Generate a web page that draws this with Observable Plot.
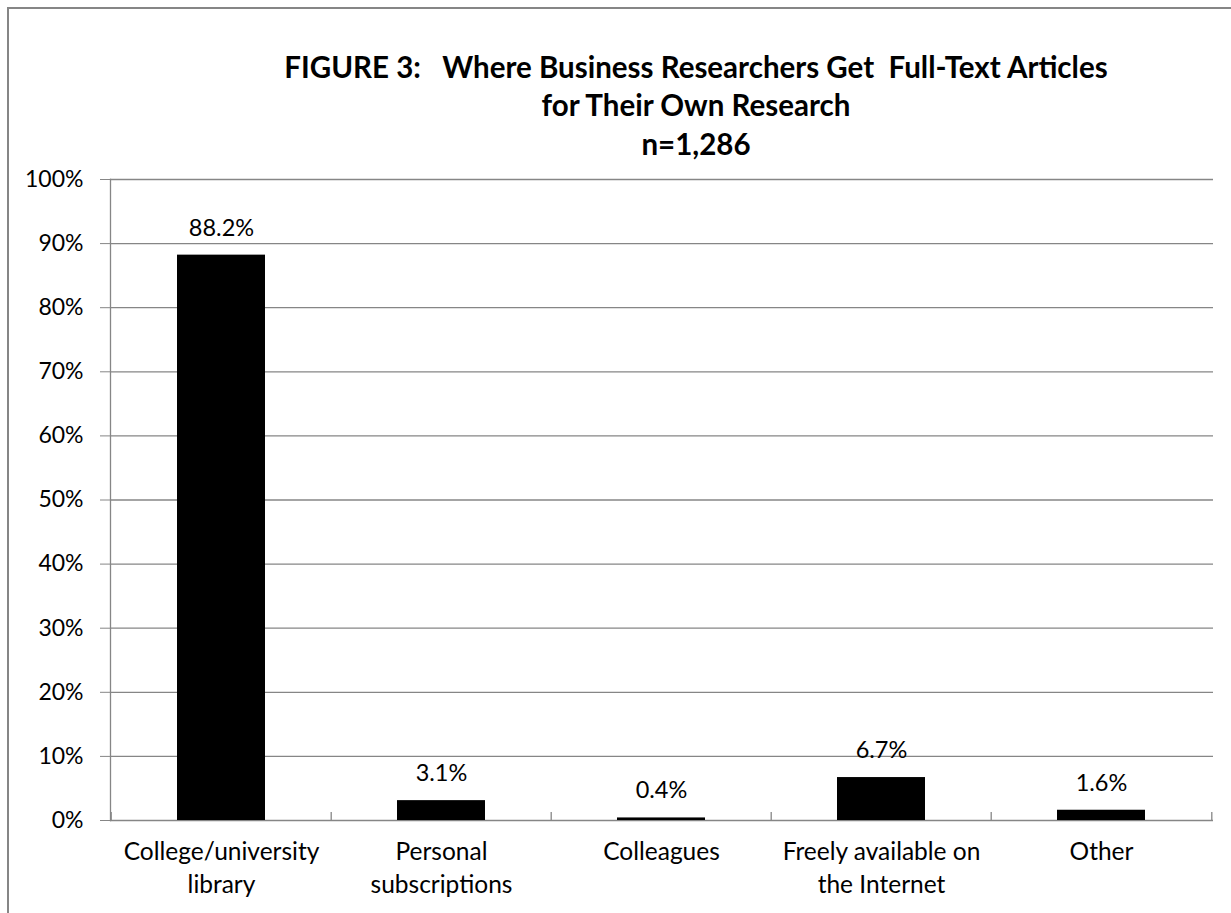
<!DOCTYPE html>
<html>
<head>
<meta charset="utf-8">
<script src="https://cdn.jsdelivr.net/npm/d3@7"></script>
<script src="https://cdn.jsdelivr.net/npm/@observablehq/plot@0.6"></script>
<style>
  html, body { margin: 0; padding: 0; background: #fff; }
  #wrap { position: relative; width: 1231px; height: 913px; overflow: hidden; }
  #border { position: absolute; left: 7px; top: 7px; width: 1400px; height: 1000px;
            border-left: 2px solid #868686; border-top: 2px solid #868686; pointer-events: none; }
  #chart { position: absolute; left: 0; top: 0; }
</style>
</head>
<body>
<div id="wrap"><div id="chart"></div><div id="border"></div></div>
<script>
const categories = ["College/university library", "Personal subscriptions", "Colleagues", "Freely available on the Internet", "Other"];
const axisLabels = ["College/university\nlibrary", "Personal\nsubscriptions", "Colleagues", "Freely available on\nthe Internet", "Other"];
const values = [88.2, 3.1, 0.4, 6.7, 1.6];
const yTicks = [0, 10, 20, 30, 40, 50, 60, 70, 80, 90, 100];
const titleLines = ["FIGURE 3:\u00a0\u00a0 Where Business Researchers Get\u00a0 Full-Text Articles", "for Their Own Research", "n=1,286"];

const data = categories.map((c, i) => ({category: c, value: values[i]}));

const W = 1231, H = 913;
const mL = 110, mR = 18, mT = 179, mB = 93;
const half = (W - mL - mR) / categories.length / 2;
const frameH = H - mT - mB;
const grid = "#868686";
const font = "Lato, 'Open Sans', sans-serif";

const chart = Plot.plot({
  width: W,
  height: H,
  marginLeft: mL,
  marginRight: mR,
  marginTop: mT,
  marginBottom: mB,
  style: {fontFamily: font, fontSize: "23px", color: "#000", background: "#fff"},
  x: {domain: categories, paddingInner: 0.6, paddingOuter: 0.3},
  y: {domain: [0, 100]},
  marks: [
    Plot.ruleY(yTicks, {stroke: grid, strokeWidth: 1.3}),
    Plot.frame({anchor: "left", stroke: grid, strokeWidth: 1.3}),
    Plot.ruleX(categories, {x: d => d, dx: -half, insetTop: frameH - 8, stroke: grid, strokeWidth: 1.3}),
    Plot.ruleX(categories.slice(-1), {x: d => d, dx: half, insetTop: frameH - 8, stroke: grid, strokeWidth: 1.3}),
    Plot.barY(data, {x: "category", y: "value", fill: "#000"}),
    Plot.text(data, {x: "category", y: "value", text: d => d.value.toFixed(1) + "%", dy: -27, lineAnchor: "middle", fill: "#000", fontSize: 23.5}),
    Plot.axisY({ticks: yTicks, tickSize: 10, tickPadding: 17, tickFormat: d => d + "%", stroke: grid, fontSize: 23, label: null}),
    Plot.axisX({tickSize: 0, tickPadding: 16, tickFormat: d => axisLabels[categories.indexOf(d)], lineHeight: 1.35, fontSize: 24.5, label: null}),
    Plot.text([titleLines.join("\n")], {frameAnchor: "top", dx: 34, dy: -25, lineAnchor: "bottom", lineHeight: 1.3, fontSize: 29.5, fontWeight: "bold", fill: "#000"})
  ]
});
document.getElementById("chart").appendChild(chart);
</script>
</body>
</html>
